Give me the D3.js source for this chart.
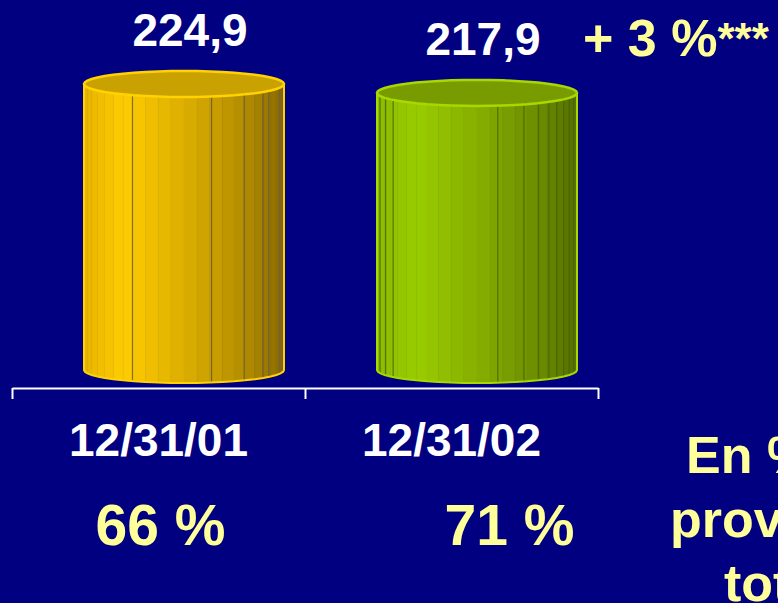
<!DOCTYPE html>
<html>
<head>
<meta charset="utf-8">
<script src="https://cdn.jsdelivr.net/npm/d3@7"></script>
<style>
  html, body { margin: 0; padding: 0; background: #000080; overflow: hidden; }
  text { font-family: "Liberation Sans", Arial, sans-serif; font-weight: bold; }
</style>
</head>
<body>
<div id="chart"></div>
<script>
// données
const categories = ["12/31/01", "12/31/02"];
const values = [224.9, 217.9];
const shares = ["66 %", "71 %"];
const growthLabel = "+ 3 %";
const growthNote = "***";
const sideNote = ["En % des", "provisions", "totales"];

const width = 778, height = 603;
const palettes = [
    { stops: ["#e6b400", "#ffcc00", "#dcae00", "#b48e00", "#8a6c00"], top: "#c9a100", edge: "#ffd200", line: "#6b5a3a",
      lines: [121, 74, 53, 38, 32, 18, 11] },
    { stops: ["#8cbc00", "#9acc00", "#86ae00", "#6c8e00", "#546f00"], top: "#789c00", edge: "#a8d800", line: "#4d6600",
      lines: [166, 156, 147, 78, 62, 52, 44, 37, 30, 23, 15] }
];

const svg = d3.select("#chart").append("svg")
    .attr("width", width)
    .attr("height", height);

svg.append("rect").attr("width", width).attr("height", height).attr("fill", "#000080");

// échelles
const x = d3.scaleBand().domain(categories).range([12, 598]);
const y = d3.scaleLinear().domain([0, d3.max(values)]).range([370, 84]);
const tickScale = d3.scaleLinear().domain([0, categories.length]).range([12, 598]);

// axe (traits aux limites des catégories)
const axis = svg.append("g")
    .attr("transform", "translate(0,388)")
    .call(d3.axisBottom(tickScale).tickValues(d3.range(categories.length + 1)).tickSize(11).tickSizeOuter(0).tickFormat(""));
axis.selectAll("path, line").attr("stroke", "#ffffff").attr("stroke-width", 2);

// cylindres
const R = 100, RY = 13, N = 24;
const cylOffset = 72;

categories.forEach((cat, i) => {
    const pal = palettes[i];
    const cx = x(cat) + cylOffset + R;
    const yt = y(values[i]);
    const yb = y(0);
    const color = d3.scaleLinear().domain([0, 0.2, 0.5, 0.8, 1]).range(pal.stops);
    const g = svg.append("g");

    const angles = d3.range(N + 1).map(k => Math.PI - k * Math.PI / N);
    const px = a => cx + R * Math.cos(a);

    // facettes
    for (let k = 0; k < N; k++) {
        const a0 = angles[k], a1 = angles[k + 1];
        const mid = ((px(a0) + px(a1)) / 2 - (cx - R)) / (2 * R);
        g.append("path")
            .attr("d", `M${px(a0)},${yt + RY * Math.sin(a0)}L${px(a1)},${yt + RY * Math.sin(a1)}L${px(a1)},${yb + RY * Math.sin(a1)}L${px(a0)},${yb + RY * Math.sin(a0)}Z`)
            .attr("fill", color(mid))
            .attr("stroke", color(mid))
            .attr("stroke-width", 0.6);
    }

    // arêtes sombres
    pal.lines.forEach(deg => {
        const a = deg * Math.PI / 180;
        g.append("line")
            .attr("x1", px(a)).attr("x2", px(a))
            .attr("y1", yt + RY * Math.sin(a)).attr("y2", yb + RY * Math.sin(a))
            .attr("stroke", pal.line).attr("stroke-width", 1.2).attr("opacity", 0.85);
    });

    // contour du corps
    const bottom = angles.map(a => [px(a), yb + RY * Math.sin(a)]);
    g.append("path")
        .attr("d", `M${cx - R},${yt}` + bottom.map(p => `L${p[0]},${p[1]}`).join("") + `L${cx + R},${yt}`)
        .attr("fill", "none")
        .attr("stroke", pal.edge)
        .attr("stroke-width", 2);

    // dessus
    const topPts = d3.range(2 * N).map(k => {
        const a = k * Math.PI / N;
        return [cx + R * Math.cos(a), yt + RY * Math.sin(a)];
    });
    g.append("path")
        .attr("d", "M" + topPts.map(p => p.join(",")).join("L") + "Z")
        .attr("fill", pal.top)
        .attr("stroke", pal.edge)
        .attr("stroke-width", 2.5);

    // valeur
    svg.append("text")
        .attr("x", cx + 6)
        .attr("y", yt - 38)
        .attr("text-anchor", "middle")
        .attr("font-size", 46)
        .attr("fill", "#ffffff")
        .text(values[i].toFixed(1).replace(".", ","));

    // date
    svg.append("text")
        .attr("x", x(cat) + x.bandwidth() / 2)
        .attr("y", 456)
        .attr("text-anchor", "middle")
        .attr("font-size", 46)
        .attr("fill", "#ffffff")
        .text(cat);
});

// parts en %
const shareOffsets = [2, 58];
svg.selectAll(".share")
    .data(shares)
    .enter()
    .append("text")
    .attr("class", "share")
    .attr("x", (d, i) => x(categories[i]) + x.bandwidth() / 2 + shareOffsets[i])
    .attr("y", 545)
    .attr("text-anchor", "middle")
    .attr("font-size", 57)
    .attr("fill", "#ffff99")
    .text(d => d);

// progression
const growth = svg.append("text")
    .attr("x", 583)
    .attr("y", 56)
    .attr("fill", "#ffff99")
    .attr("font-size", 52);
growth.append("tspan").text(growthLabel);
growth.append("tspan").attr("font-size", 44).attr("dy", -2).text(growthNote);

// note de droite (coupée par le cadre, comme dans l'original)
const notePos = [[686, 473], [670, 537], [724, 601]];
svg.selectAll(".note")
    .data(sideNote)
    .enter()
    .append("text")
    .attr("class", "note")
    .attr("x", (d, i) => notePos[i][0])
    .attr("y", (d, i) => notePos[i][1])
    .attr("font-size", 52)
    .attr("fill", "#ffff99")
    .text(d => d);
</script>
</body>
</html>
